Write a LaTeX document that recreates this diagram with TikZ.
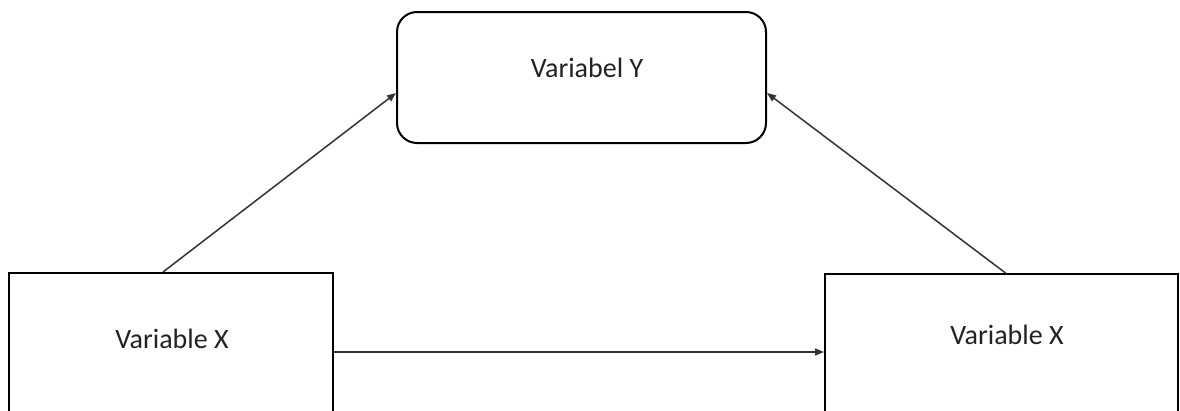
\documentclass[tikz,border=0pt]{standalone}
\usepackage{fontspec}
\setmainfont{Carlito}
\usetikzlibrary{arrows.meta}
\definecolor{ink}{HTML}{222222}
\definecolor{wire}{HTML}{333333}
\tikzset{
  box/.style={draw=black, line width=2pt, fill=white, inner sep=0pt},
  lbl/.style={text=ink, font=\fontsize{28}{34}\selectfont, inner sep=0pt},
  arr/.style={draw=wire, line width=1.5pt, -{Triangle[length=9pt,width=7pt]}},
}
\begin{document}
\begin{tikzpicture}[x=1pt, y=-1pt]
  \useasboundingbox (0,0) rectangle (1180,410);
  \fill[white] (0,0) rectangle (1180,410);
  \clip (0,0) rectangle (1180,410);

  % outcome variable
  \node[box, rounded corners=20pt, minimum width=369pt, minimum height=131pt]
    (ty) at (581.5,77.5) {};
  \node[lbl] (tyt) at (587,68) {Variabel Y};

  % predictor boxes (run off the lower edge)
  \node[box, minimum width=324pt, minimum height=180pt] (lx) at (171,363) {};
  \node[lbl] (lxt) at (172,339) {Variable X};
  \node[box, minimum width=353pt, minimum height=180pt] (rx) at (1001.5,364) {};
  \node[lbl] (rxt) at (1007,335) {Variable X};

  % connectors
  \draw[arr] ([xshift=-8pt]lx.north) -- ([yshift=-15.5pt]ty.west);
  \draw[arr] ([xshift=4pt]rx.north) -- ([yshift=-15.5pt]ty.east);
  \draw[arr] (lx.east |- 0,352) -- (rx.west |- 0,352);
\end{tikzpicture}
\end{document}
